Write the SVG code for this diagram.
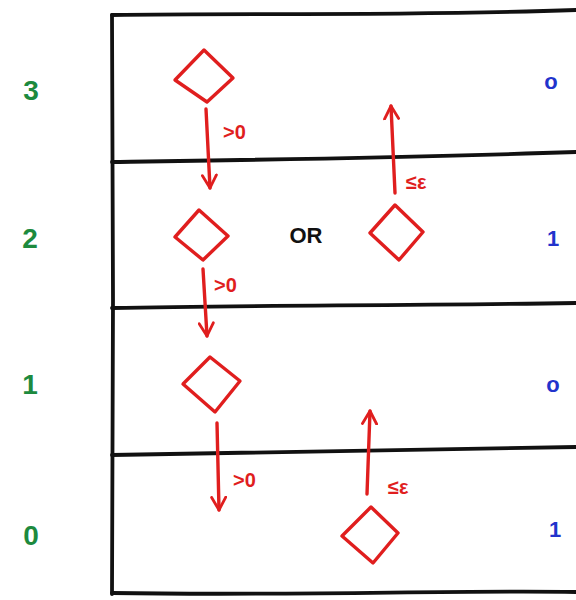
<svg xmlns="http://www.w3.org/2000/svg" width="576" height="600" viewBox="0 0 576 600">
<defs>
<style>
.frame{fill:none;stroke:#111;stroke-width:3.8;stroke-linecap:round;stroke-linejoin:round}
.dia{fill:none;stroke:#e01e1e;stroke-width:3.4;stroke-linejoin:round}
.arr{fill:none;stroke:#e01e1e;stroke-width:3.4;stroke-linecap:round;marker-end:url(#ah)}
.rl{font-family:"Liberation Sans",Arial,sans-serif;font-size:20px;fill:#e01e1e;font-weight:bold}
.gl{font-family:"Liberation Sans",Arial,sans-serif;font-size:28px;fill:#1d8a3e;font-weight:bold;text-anchor:middle}
.bl{font-family:"Liberation Sans",Arial,sans-serif;font-size:22px;fill:#2233cc;font-weight:bold;text-anchor:middle}
.or{font-family:"Liberation Sans",Arial,sans-serif;font-size:22px;fill:#111;font-weight:bold;text-anchor:middle}
</style>
<marker id="ah" viewBox="0 0 12 12" refX="10" refY="6" markerWidth="5" markerHeight="5" orient="auto" markerUnits="strokeWidth">
<path d="M1,1 L10,6 L1,11" fill="none" stroke="#e01e1e" stroke-width="2" stroke-linecap="round" stroke-linejoin="round"/>
</marker>
</defs>
<rect width="576" height="600" fill="#fff"/>
<g id="frame">
<path class="frame" d="M112,15 C250,13 400,16 576,10"/>
<path class="frame" d="M112,15 L113,300 L112,594"/>
<path class="frame" d="M112,593 C300,596 450,590 576,592"/>
<path class="frame" d="M112,162 C250,160 400,158 576,152"/>
<path class="frame" d="M112,308 C250,305 400,306 576,303"/>
<path class="frame" d="M112,455 C250,452 400,451 576,447"/>
</g>
<g id="level-labels">
<text class="gl" x="31" y="100">3</text>
<text class="gl" x="30" y="248">2</text>
<text class="gl" x="30" y="394">1</text>
<text class="gl" x="31" y="545">0</text>
</g>
<g id="values">
<text class="bl" x="551" y="89">o</text>
<text class="bl" x="553" y="246">1</text>
<text class="bl" x="553" y="392">o</text>
<text class="bl" x="555" y="537">1</text>
</g>
<g id="n3"><path class="dia" d="M204,50 L233,78 L207,102 L175,80 Z"/></g>
<g id="n2a"><path class="dia" d="M199,210 L228,236 L203,260 L175,237 Z"/></g>
<g id="or"><text class="or" x="306" y="243">OR</text></g>
<g id="n2b"><path class="dia" d="M395,205 L423,232 L399,260 L370,233 Z"/></g>
<g id="n1"><path class="dia" d="M210,357 L240,381 L215,412 L183,384 Z"/></g>
<g id="n0"><path class="dia" d="M371,507 L398,533 L373,563 L342,536 Z"/></g>
<g id="connectors">
<path class="arr" d="M206,109 L210,188"/>
<path class="arr" d="M395,193 L391,106"/>
<path class="arr" d="M203,269 L207,336"/>
<path class="arr" d="M367,494 L370,411"/>
<path class="arr" d="M217,423 L219,510"/>
</g>
<g id="labels">
<text class="rl" x="223" y="139">&gt;0</text>
<text class="rl" x="406" y="189">≤ε</text>
<text class="rl" x="214" y="292">&gt;0</text>
<text class="rl" x="388" y="494">≤ε</text>
<text class="rl" x="233" y="487">&gt;0</text>
</g>
</svg>
